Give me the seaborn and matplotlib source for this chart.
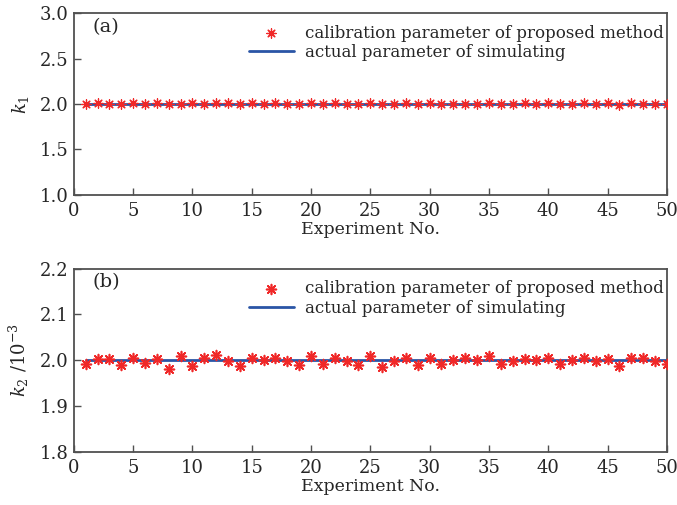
import numpy as np
import pandas as pd
import seaborn as sns
import matplotlib.pyplot as plt

# experiment index
exp_no = list(range(1, 51))

# k1 calibration results
k1_calib = [2.000, 2.015, 2.005, 2.005, 2.015, 2.000, 2.015, 2.000, 2.005, 2.015,
            2.000, 2.015, 2.015, 2.000, 2.015, 2.005, 2.015, 2.000, 2.000, 2.015,
            2.000, 2.015, 2.000, 2.000, 2.015, 2.000, 2.000, 2.015, 2.000, 2.015,
            2.000, 2.000, 2.000, 2.005, 2.015, 2.000, 2.000, 2.015, 2.000, 2.015,
            2.000, 2.000, 2.015, 2.000, 2.015, 1.985, 2.015, 2.000, 2.000, 2.005]
k1_actual = 2.0

# k2 calibration results, units of 1e-3
k2_calib = [1.991, 2.002, 2.002, 1.989, 2.006, 1.995, 2.002, 1.981, 2.009, 1.987,
            2.005, 2.012, 1.999, 1.987, 2.005, 2.000, 2.006, 1.999, 1.989, 2.009,
            1.993, 2.006, 1.999, 1.989, 2.009, 1.986, 1.999, 2.006, 1.989, 2.006,
            1.993, 2.001, 2.006, 2.000, 2.009, 1.991, 1.999, 2.002, 2.000, 2.006,
            1.993, 2.000, 2.006, 1.999, 2.002, 1.987, 2.006, 2.006, 1.999, 1.991]
k2_actual = 2.0

df = pd.DataFrame({"exp": exp_no, "k1": k1_calib, "k2": k2_calib})
df["k1_act"] = k1_actual
df["k2_act"] = k2_actual

sns.set_style("ticks")
plt.rcParams["font.family"] = ["DejaVu Serif"]
plt.rcParams["mathtext.fontset"] = "dejavuserif"
plt.rcParams["font.size"] = 11

RED = "#f02828"
BLUE = "#2a55a6"
SPINE = "#505050"
star = (8, 2, 0)

fig = plt.figure(figsize=(6.77, 5.05), dpi=100)
ax1 = fig.add_axes([0.109, 0.614, 0.876, 0.360])
ax2 = fig.add_axes([0.109, 0.105, 0.876, 0.363])


def style_axis(ax, ylim, yticks, ylab, tag):
    ax.set_xlim(0, 50)
    ax.set_ylim(*ylim)
    ax.set_xticks(range(0, 51, 5))
    ax.set_yticks(yticks)
    ax.set_yticklabels([f"{t:.1f}" for t in yticks])
    ax.tick_params(direction="in", length=5, width=1, color=SPINE,
                   labelsize=13, top=False, right=False)
    ax.tick_params(axis="x", pad=5)
    ax.tick_params(axis="y", pad=4)
    for s in ax.spines.values():
        s.set_color(SPINE)
        s.set_linewidth(1.3)
    ax.set_xlabel("Experiment No.", fontsize=12.5, labelpad=1)
    ax.set_ylabel(ylab, fontsize=13, labelpad=6)
    ax.text(0.032, 0.975, tag, transform=ax.transAxes, fontsize=14,
            va="top", ha="left")
    ax.legend(frameon=False, loc="upper left", bbox_to_anchor=(0.275, 1.0),
              fontsize=12, handlelength=2.7, handletextpad=0.7,
              labelspacing=0.15, borderaxespad=0.3)


sns.scatterplot(data=df, x="exp", y="k1", ax=ax1, marker=star, s=45,
                color=RED, edgecolor=RED, linewidth=0.9, zorder=3,
                label="calibration parameter of proposed method")
sns.lineplot(data=df, x="exp", y="k1_act", ax=ax1, color=BLUE, linewidth=2,
             label="actual parameter of simulating", zorder=2)
style_axis(ax1, (1.0, 3.0), [1.0, 1.5, 2.0, 2.5, 3.0], r"$k_1$", "(a)")

sns.scatterplot(data=df, x="exp", y="k2", ax=ax2, marker=star, s=50,
                color=RED, edgecolor=RED, linewidth=1.2, zorder=3,
                label="calibration parameter of proposed method")
sns.lineplot(data=df, x="exp", y="k2_act", ax=ax2, color=BLUE, linewidth=2,
             label="actual parameter of simulating", zorder=2)
style_axis(ax2, (1.8, 2.2), [1.8, 1.9, 2.0, 2.1, 2.2],
           r"$k_2$ /10$^{-3}$", "(b)")

fig.savefig("out.png", dpi=100)
